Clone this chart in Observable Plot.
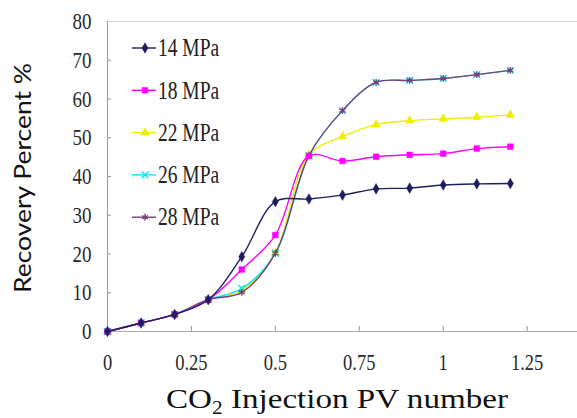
<!DOCTYPE html>
<!-- CO2 injection recovery chart, final build -->
<html lang="en">
<head>
<meta charset="utf-8">
<title>Recovery Percent vs CO2 Injection PV number</title>
<style>
  html, body { margin: 0; padding: 0; background: #fff; }
  #chart svg { display: block; }
</style>
<script src="https://cdn.jsdelivr.net/npm/d3@7"></script>
<script src="https://cdn.jsdelivr.net/npm/@observablehq/plot@0.6"></script>
</head>
<body>
<div id="chart"></div>
<script>
// ---- data ----
const pv = [0, 0.1, 0.2, 0.3, 0.4, 0.5, 0.6, 0.7, 0.8, 0.9, 1.0, 1.1, 1.2];
const seriesNames = ["14 MPa", "18 MPa", "22 MPa", "26 MPa", "28 MPa"];
const rec14 = [0, 2.2, 4.4, 8.2, 19.3, 33.5, 34.2, 35.2, 36.8, 37.0, 37.8, 38.1, 38.2];
const rec18 = [0, 2.2, 4.4, 8.2, 16.0, 24.9, 45.3, 44.0, 45.1, 45.6, 45.9, 47.2, 47.7];
const rec22 = [0, 2.2, 4.4, 8.2, 10.6, 20.3, 45.6, 50.3, 53.4, 54.4, 54.9, 55.3, 55.9];
const rec26 = [0, 2.2, 4.4, 8.2, 11.1, 20.2, 45.4, 57.0, 64.3, 64.8, 65.3, 66.3, 67.4];
const rec28 = [0, 2.2, 4.4, 8.2, 10.1, 20.2, 45.4, 57.0, 64.3, 64.8, 65.3, 66.3, 67.4];
const xTickValues = [0, 0.25, 0.5, 0.75, 1, 1.25];
const yTickValues = [0, 10, 20, 30, 40, 50, 60, 70, 80];
const xTitleRest = "Injection PV number";
const yTitleText = "Recovery Percent %";

const lineColors  = ["#1e1e5e", "#ff00ff", "#eeee00", "#00e8f0", "#7b3f7b"];
const markerNames = ["diamond", "square", "triangle", "times", "asterisk"];
const markerFilled = [true, true, true, false, false];
const markerD3 = [d3.symbolDiamond, d3.symbolSquare, d3.symbolTriangle, d3.symbolTimes, d3.symbolAsterisk];
const seriesValues = [rec14, rec18, rec22, rec26, rec28];

const rows = [];
seriesNames.forEach((s, k) => pv.forEach((x, i) => rows.push({series: s, k, pv: x, rec: seriesValues[k][i]})));

// ---- layout ----
const W = 577, H = 418;
const mL = 107, mT = 21, mR = 0, mB = 87;
const plotW = W - mL - mR, plotH = H - mT - mB;
const SERIF = "'Liberation Serif', 'Times New Roman', serif";
const SANS = "Lato, 'Open Sans', sans-serif";
const STRETCH = 1.25;

const drawOrder = [2, 3, 4, 1, 0];
const seriesMarks = [];
for (const k of drawOrder) {
  const data = rows.filter(d => d.k === k);
  seriesMarks.push(Plot.line(data, {x: "pv", y: "rec", stroke: lineColors[k], strokeWidth: 1.4, curve: "catmull-rom"}));
  seriesMarks.push(Plot.dot(data, {x: "pv", y: "rec", symbol: () => markerNames[k], r: 3.2,
    fill: markerFilled[k] ? lineColors[k] : "none", stroke: lineColors[k], strokeWidth: markerFilled[k] ? 0.5 : 1.4}));
}

const chart = Plot.plot({
  width: W, height: H,
  marginLeft: mL, marginTop: mT, marginRight: mR, marginBottom: mB,
  x: {domain: [0, 1.4]},
  y: {domain: [0, 80]},
  symbol: {domain: markerNames, range: markerNames},
  marks: [
    Plot.ruleY([80], {stroke: "#d4d4d4"}),
    Plot.ruleY(yTickValues.filter(v => v > 0 && v < 80), {stroke: "#999", insetRight: plotW - 4}),
    Plot.ruleX(xTickValues.filter(v => v > 0), {stroke: "#999", insetTop: plotH - 5}),
    Plot.ruleX([0], {stroke: "#999"}),
    Plot.ruleY([0], {stroke: "#aaa"}),
    Plot.axisY({ticks: yTickValues, tickSize: 0, tickPadding: 16, fontSize: 19, fill: "#2a2a2a", label: null, tickFormat: d => String(d)}),
    Plot.axisX({ticks: xTickValues, tickSize: 0, tickPadding: 22, fontSize: 18.5, fill: "#2a2a2a", label: null, tickFormat: d => String(d)}),
    ...seriesMarks
  ]
});
chart.style.background = "#fff";
document.getElementById("chart").appendChild(chart);

// all texts so far are Plot's tick labels: serif, vertically stretched as in the reference
Array.from(chart.querySelectorAll("text")).forEach(el => {
  el.style.fontFamily = SERIF;
  el.setAttribute("font-family", SERIF);
  const t = el.getAttribute("transform") || "";
  el.setAttribute("transform", (t + " scale(1," + STRETCH + ")").trim());
});

// ---- titles & legend ----
const root = d3.select(chart);
const xt = root.append("text")
  .attr("x", 337).attr("y", 408)
  .attr("text-anchor", "middle")
  .style("font-family", SERIF)
  .attr("font-size", 28).attr("fill", "#111")
  .attr("textLength", 342).attr("lengthAdjust", "spacingAndGlyphs");
xt.append("tspan").text("CO");
xt.append("tspan").attr("font-size", 18).attr("dy", 6).text("2");
xt.append("tspan").attr("dy", -6).text(" " + xTitleRest);

root.append("text")
  .attr("transform", "translate(22,178) rotate(-90)")
  .attr("text-anchor", "middle").attr("dominant-baseline", "central")
  .style("font-family", SANS)
  .attr("font-size", 23).attr("fill", "#111")
  .attr("textLength", 230).attr("lengthAdjust", "spacingAndGlyphs")
  .text(yTitleText);

const lg = root.append("g");
seriesNames.forEach((s, k) => {
  const y = 48 + k * 42.3;
  lg.append("line").attr("x1", 132).attr("x2", 156).attr("y1", y).attr("y2", y)
    .attr("stroke", lineColors[k]).attr("stroke-width", 1.4);
  lg.append("path").attr("transform", `translate(145,${y})`)
    .attr("d", d3.symbol(markerD3[k], 32)())
    .attr("fill", markerFilled[k] ? lineColors[k] : "none").attr("stroke", lineColors[k]).attr("stroke-width", markerFilled[k] ? 0.5 : 1.4);
  lg.append("text").attr("transform", `translate(158,${y}) scale(1,${STRETCH})`).attr("dy", "0.34em")
    .attr("text-anchor", "start")
    .style("font-family", SERIF)
    .attr("font-size", 19.5).attr("fill", "#222").text(s);
});
</script>
</body>
</html>
